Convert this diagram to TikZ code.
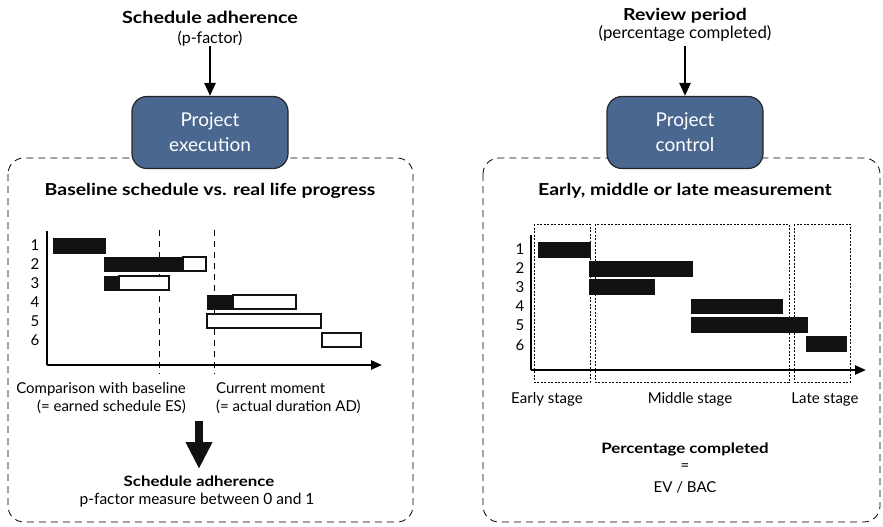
\documentclass[tikz,border=0pt]{standalone}
\usepackage{fontspec}
\setmainfont{Lato}[BoldFeatures={FakeStretch=1.18}]
\usetikzlibrary{arrows.meta}
\definecolor{boxblue}{HTML}{4A6790}
\definecolor{bardark}{HTML}{111111}
\tikzset{
  txt/.style={inner sep=0pt, font=\fontsize{15}{17.5}\selectfont},
  btxt/.style={inner sep=0pt, font=\fontsize{16.5}{19}\selectfont\bfseries},
  projbox/.style={draw=black!85, line width=1.2pt, fill=boxblue, rounded corners=15pt, minimum width=156pt, minimum height=72pt, text=white, align=center, font=\fontsize{19}{25}\selectfont},
  panel/.style={draw=black, line width=0.8pt, dash pattern=on 7pt off 5pt, rounded corners=16pt},
  thinarrow/.style={line width=2.6pt, -{Triangle[width=11pt,length=13pt]}},
  axis/.style={line width=2.4pt, -{Triangle[width=9pt,length=11pt]}},
  blackbar/.style={fill=bardark, draw=bardark, line width=0.6pt},
  whitebar/.style={fill=white, draw=bardark, line width=1.6pt},
  timeline/.style={line width=0.8pt, dash pattern=on 6pt off 5pt},
  stagebox/.style={line width=0.7pt, dash pattern=on 2pt off 1.5pt},
  lbl/.style={inner sep=0pt, font=\fontsize{15}{17}\selectfont}
}
\begin{document}
\begin{tikzpicture}[x=1pt,y=-1pt]
\useasboundingbox (0,0) rectangle (883,527);
% panels
\draw[panel] (8,158) rectangle (413,522);
\draw[panel] (483,158) rectangle (880,522);
% headers
\node[btxt, font=\fontsize{16.7}{19}\selectfont\bfseries] (h1) at (210,17) {Schedule adherence};
\node[txt, font=\fontsize{16}{18}\selectfont] (h1b) at (210,39) {(p-factor)};
\node[btxt] (h2) at (685,16) {Review period};
\node[txt, font=\fontsize{16.8}{19}\selectfont] (h2b) at (685,33.5) {(percentage completed)};
\coordinate (a1s) at (210,46);
\coordinate (a2s) at (685,46);
% project boxes
\node[projbox] (pe) at (210,132.5) {Project\\execution};
\node[projbox] (pc) at (685,132.5) {Project\\control};
\draw[thinarrow] (a1s) -- (pe.north);
\draw[thinarrow] (a2s) -- (pc.north);
% titles
\node[btxt] (t1) at (210,191) {Baseline schedule vs. real life progress};
\node[btxt] (t2) at (685,191) {Early, middle or late measurement};
% ---------- left chart ----------
\coordinate (lo) at (47,365);
\coordinate (ly) at (47,231);
\coordinate (lx) at (382,365);
\draw[timeline] (159,230) -- (159,374);
\draw[timeline] (214,230) -- (214,374);
\draw[line width=2.4pt] (ly) -- (lo);
\draw[axis] (lo) -- (lx);
\draw[blackbar] (53,238) rectangle (105,253);
\draw[blackbar] (104,257) rectangle (183,271);
\draw[whitebar] (183,257) rectangle (206,271);
\draw[blackbar] (104,276) rectangle (119,290);
\draw[whitebar] (119,276) rectangle (169,290);
\draw[blackbar] (207,295) rectangle (233,309);
\draw[whitebar] (233,295) rectangle (296,309);
\draw[whitebar] (207,314) rectangle (321,328);
\draw[whitebar] (322,333) rectangle (361,347);
\foreach \i/\y in {1/245,2/264,3/283,4/302,5/321,6/340}
  \node[lbl] (ln\i) at (35,\y) {\i};
\node[txt, anchor=east, align=right] (cmp) at (186,398) {Comparison with baseline\\(= earned schedule ES)};
\node[txt, anchor=west, align=left] (cur) at (216,398) {Current moment\\(= actual duration AD)};
\coordinate (ba1) at (199,421);
\coordinate (ba2) at (199,469);
\draw[line width=8pt, -{Triangle[width=25pt,length=27pt]}, bardark] (ba1) -- (ba2);
\node[btxt, font=\fontsize{14.3}{16}\selectfont\bfseries] (sa) at (199,481) {Schedule adherence};
\node[txt, font=\fontsize{15.5}{17}\selectfont] (pf) at (197,500) {p-factor measure between 0 and 1};
% ---------- right chart ----------
\draw[stagebox] (534,224) rectangle (590,382);
\draw[stagebox] (595,224) rectangle (789,382);
\draw[stagebox] (794,224) rectangle (850,382);
\coordinate (ro) at (531,370);
\coordinate (ry) at (531,235);
\coordinate (rx) at (866,370);
\draw[line width=2.4pt] (ry) -- (ro);
\draw[axis] (ro) -- (rx);
\draw[blackbar] (538,242) rectangle (590,257);
\draw[blackbar] (589,261) rectangle (692,276);
\draw[blackbar] (589,279) rectangle (654,294);
\draw[blackbar] (691,299) rectangle (782,313);
\draw[blackbar] (691,317) rectangle (807,332);
\draw[blackbar] (806,336) rectangle (846,351);
\foreach \i/\y in {1/249,2/268,3/287,4/306,5/325,6/345}
  \node[lbl] (rn\i) at (520,\y) {\i};
\node[txt] (es) at (547,399) {Early stage};
\node[txt] (ms) at (690,399) {Middle stage};
\node[txt] (ls) at (825,399) {Late stage};
\node[btxt, font=\fontsize{14.3}{17}\selectfont\bfseries] (pcp) at (685,449) {Percentage completed};
\node[txt] (eq) at (685,467) {=};
\node[txt] (ev) at (685,487) {EV / BAC};
\end{tikzpicture}
\end{document}
